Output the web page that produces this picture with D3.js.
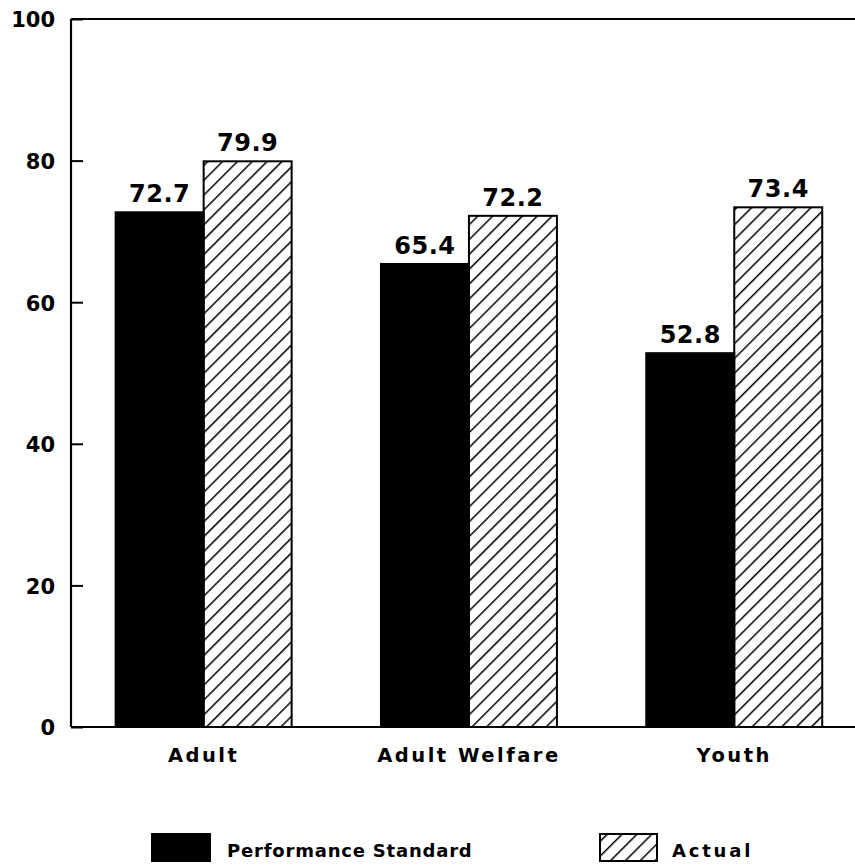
<!DOCTYPE html>
<html>
<head>
<meta charset="utf-8">
<script src="https://cdn.jsdelivr.net/npm/d3@7"></script>
<style>
  html, body { margin: 0; padding: 0; background: #fff; }
  svg { display: block; }
  text { font-family: "DejaVu Sans", sans-serif; font-weight: bold; fill: #000; }
</style>
</head>
<body>
<div id="chart"></div>
<script>
// Program groups and the two series plotted for each
const categories = ["Adult", "Adult Welfare", "Youth"];
const seriesNames = ["Performance Standard", "Actual"];
const performanceStandard = [72.7, 65.4, 52.8];
const actual = [79.9, 72.2, 73.4];
const yTicks = [0, 20, 40, 60, 80, 100];

const W = 855, H = 866;
const margin = { left: 71, top: 19, bottom: 139 };
const plotBottom = H - margin.bottom;

const svg = d3.select("#chart").append("svg")
  .attr("width", W).attr("height", H);

// Diagonal hatch for the "Actual" bars
const defs = svg.append("defs");
defs.append("pattern")
  .attr("id", "hatch")
  .attr("patternUnits", "userSpaceOnUse")
  .attr("width", 10.5).attr("height", 10.5)
  .attr("patternTransform", "rotate(45)")
  .append("line")
  .attr("x1", 0).attr("y1", 0).attr("x2", 0).attr("y2", 10.5)
  .attr("stroke", "#000").attr("stroke-width", 3);

const y = d3.scaleLinear().domain([0, 100]).range([plotBottom, margin.top]);

const step = 265.3;
const x0 = d3.scaleBand()
  .domain(categories)
  .range([margin.left, margin.left + step * categories.length])
  .paddingInner(0.3367)
  .paddingOuter(0.3367 / 2);

const x1 = d3.scaleBand()
  .domain(seriesNames)
  .range([0, x0.bandwidth()]);

const rows = categories.map((c, i) => ({
  category: c,
  values: [
    { series: seriesNames[0], value: performanceStandard[i] },
    { series: seriesNames[1], value: actual[i] }
  ]
}));

const fillFor = s => s === seriesNames[0] ? "#000" : "url(#hatch)";

// Bars
const groups = svg.append("g").selectAll("g")
  .data(rows).join("g")
  .attr("transform", d => `translate(${x0(d.category)},0)`);

groups.selectAll("rect")
  .data(d => d.values).join("rect")
  .attr("x", d => x1(d.series))
  .attr("y", d => y(d.value))
  .attr("width", x1.bandwidth())
  .attr("height", d => y(0) - y(d.value))
  .attr("fill", d => fillFor(d.series))
  .attr("stroke", "#000")
  .attr("stroke-width", 2);

// Value labels
groups.selectAll("text")
  .data(d => d.values).join("text")
  .attr("x", d => x1(d.series) + x1.bandwidth() / 2)
  .attr("y", d => y(d.value) - 10)
  .attr("text-anchor", "middle")
  .attr("font-size", 24)
  .style("letter-spacing", "0.5px")
  .text(d => d.value.toFixed(1));

// Y axis with inward ticks
const yAxis = svg.append("g")
  .attr("transform", `translate(${margin.left},0)`)
  .call(d3.axisRight(y).tickValues(yTicks).tickSize(12).tickFormat(d3.format("d")));
yAxis.select(".domain").remove();
yAxis.selectAll(".tick line").attr("stroke", "#000").attr("stroke-width", 2);
yAxis.selectAll(".tick text")
  .attr("x", -16)
  .attr("text-anchor", "end")
  .attr("dy", "0.38em")
  .attr("font-size", 21)
  .style("font-family", "'DejaVu Sans', sans-serif")
  .style("font-weight", "bold");

// Frame: left, top and bottom lines
svg.append("line")
  .attr("x1", margin.left).attr("x2", margin.left)
  .attr("y1", y(100)).attr("y2", y(0))
  .attr("stroke", "#000").attr("stroke-width", 2.2);
svg.append("line")
  .attr("x1", margin.left).attr("x2", W)
  .attr("y1", y(100)).attr("y2", y(100))
  .attr("stroke", "#000").attr("stroke-width", 2.2);
svg.append("line")
  .attr("x1", margin.left).attr("x2", W)
  .attr("y1", y(0)).attr("y2", y(0))
  .attr("stroke", "#000").attr("stroke-width", 2.2);

// Category labels
svg.append("g").selectAll("text")
  .data(categories).join("text")
  .attr("x", d => x0(d) + x0.bandwidth() / 2)
  .attr("y", y(0) + 35)
  .attr("text-anchor", "middle")
  .attr("font-size", 19.5)
  .style("letter-spacing", "2.5px")
  .text(d => d);

// Legend
const legendItems = [
  { name: seriesNames[0], bx: 152, tx: 227, w: 58, ls: 0.8 },
  { name: seriesNames[1], bx: 600, tx: 672, w: 57, ls: 2.8 }
];
const legend = svg.append("g");
legend.selectAll("rect")
  .data(legendItems).join("rect")
  .attr("x", d => d.bx)
  .attr("y", 834)
  .attr("width", d => d.w)
  .attr("height", 27)
  .attr("fill", d => fillFor(d.name))
  .attr("stroke", "#000")
  .attr("stroke-width", 2);
legend.selectAll("text")
  .data(legendItems).join("text")
  .attr("x", d => d.tx)
  .attr("y", 857)
  .attr("font-size", 18)
  .style("letter-spacing", d => d.ls + "px")
  .text(d => d.name);
</script>
</body>
</html>
